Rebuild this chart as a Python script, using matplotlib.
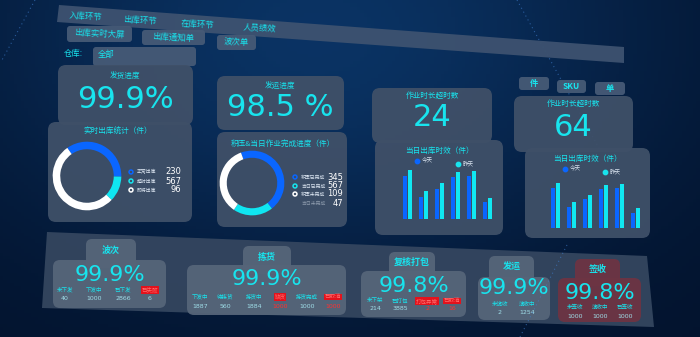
import numpy as np
import matplotlib
matplotlib.use("Agg")
import matplotlib.pyplot as plt
from matplotlib.patches import FancyBboxPatch, Polygon

plt.rcParams['font.family'] = ['Noto Sans CJK SC', 'DejaVu Sans']

W, H = 700, 337

# ---- data ----
top_tabs = ['入库环节', '出库环节', '在库环节', '人员绩效']
sub_tabs = ['出库实时大屏', '出库通知单', '波次单']
unit_buttons = ['件', 'SKU', '单']

kpi_titles = ['发货进度', '发运进度', '作业时长超时数', '作业时长超时数']
kpi_values = ['99.9%', '98.5 %', '24', '64']

donut1_labels = ['正常出库', '超时出库', '即将出库']
donut1_values = [230, 567, 96]
donut1_share = [35, 12, 53]          # arc sizes as drawn
donut2_labels = ['积压已完成', '当日已完成', '积压未完成', '当日未完成']
donut2_values = [345, 567, 109, 47]
donut2_share = [45, 20, 35]

bar_legend = ['今天', '昨天']
bars_a_today = [120, 62, 85, 117, 120, 47]
bars_a_yday = [137, 79, 102, 132, 134, 60]
bars_b_today = [110, 57, 80, 107, 110, 42]
bars_b_yday = [125, 72, 93, 120, 122, 55]

stage_names = ['波次', '拣货', '复核打包', '发运', '签收']
stage_pct = ['99.9%', '99.9%', '99.8%', '99.9%', '99.8%']
stage_labels = [
    ['未下发', '下发中', '已下发', '已失败'],
    ['下发中', '待拣货', '拣货中', '缺货', '拣货完成', '已取消'],
    ['未下架', '已打包', '打包异常', '已取消'],
    ['未揽收', '揽收中'],
    ['未签收', '揽收中', '已签收'],
]
stage_counts = [
    ['40', '1000', '2866', '6'],
    ['1887', '560', '1884', '1000', '1000', '1000'],
    ['214', '3885', '2', '16'],
    ['2', '1254'],
    ['1000', '1000', '1000'],
]
stage_alert = [
    [0, 0, 0, 1],
    [0, 0, 0, 1, 0, 1],
    [0, 0, 1, 1],
    [0, 0],
    [0, 0, 0],
]

CYAN = '#18e4ee'
BLUE = '#0a66ff'
CARD = '#3f5068'
CARD2 = '#566579'


def card(ax, x0, y0, x1, y1, fc=CARD, alpha=0.95, r=6):
    ax.add_patch(FancyBboxPatch((x0, y0), x1 - x0, y1 - y0,
                                boxstyle=f'round,pad=0,rounding_size={r}',
                                fc=fc, ec='none', alpha=alpha, zorder=2))


def px_axes(fig, x0, y0, x1, y1):
    return fig.add_axes([x0 / W, 1 - y1 / H, (x1 - x0) / W, (y1 - y0) / H])


fig = plt.figure(figsize=(7, 3.37), dpi=100)
ax = fig.add_axes([0, 0, 1, 1])
ax.set_xlim(0, W)
ax.set_ylim(H, 0)
ax.axis('off')

# background gradient
yy, xx = np.mgrid[0:1:100j, 0:1:200j]
glow = np.exp(-((xx - 0.45) ** 2 / 0.25 + (yy - 0.1) ** 2 / 0.5))
bg = np.zeros((100, 200, 3))
bg[..., 0] = 0.01 + 0.03 * glow
bg[..., 1] = 0.07 + 0.13 * glow
bg[..., 2] = 0.17 + 0.22 * glow
ax.imshow(bg, extent=[0, W, H, 0], aspect='auto', zorder=0)

# decorative dotted lines
ax.plot([517, 600], [0, 150], ls=(0, (1, 3)), color='#3f7fd0', lw=0.8, alpha=0.6, zorder=1)
ax.plot([567, 520], [245, 337], ls=(0, (1, 3)), color='#3f7fd0', lw=0.8, alpha=0.6, zorder=5)
ax.plot([35, 2], [0, 60], ls=(0, (1, 3)), color='#3f7fd0', lw=0.8, alpha=0.6, zorder=1)

# ---- top navigation band ----
ax.add_patch(Polygon([(59, 5), (624, 47), (624, 63), (57, 22)], closed=True,
                     fc='#3d5270', ec='none', alpha=0.95, zorder=2))
for lab, (x, y) in zip(top_tabs, [(86, 16), (140, 20), (198, 24), (260, 29)]):
    ax.text(x, y, lab, color=CYAN, fontsize=6, ha='center', va='center',
            rotation=-3, zorder=3)
for lab, (x0, y0, x1, y1) in zip(sub_tabs, [(67, 26, 132, 42), (142, 30, 205, 45),
                                             (217, 35, 256, 50)]):
    card(ax, x0, y0, x1, y1, fc='#465a76', r=3)
    ax.text((x0 + x1) / 2, (y0 + y1) / 2, lab, color=CYAN, fontsize=6,
            ha='center', va='center', rotation=-3, zorder=3)
ax.text(73, 53, '仓库:', color=CYAN, fontsize=6, ha='center', va='center', zorder=3)
card(ax, 93, 47, 196, 66, fc='#465a76', r=3)
ax.text(106, 55, '全部', color=CYAN, fontsize=6, ha='center', va='center', zorder=3)

for lab, (x0, y0, x1, y1) in zip(unit_buttons, [(519, 77, 549, 90), (557, 80, 586, 93),
                                                 (595, 82, 625, 95)]):
    card(ax, x0, y0, x1, y1, fc='#465a76', r=3)
    ax.text((x0 + x1) / 2, (y0 + y1) / 2, lab, color=CYAN, fontsize=6,
            ha='center', va='center', fontweight='bold', zorder=3)

# ---- KPI cards ----
kpi_boxes = [(58, 65, 193, 125), (217, 76, 344, 130), (372, 88, 492, 143), (514, 96, 633, 152)]
kpi_title_y = [76, 87, 96, 104]
kpi_value_y = [99, 108, 117, 128]
for i, (x0, y0, x1, y1) in enumerate(kpi_boxes):
    card(ax, x0, y0, x1, y1, r=8)
    cx = (x0 + x1) / 2
    ax.text(cx, kpi_title_y[i], kpi_titles[i], color=CYAN, fontsize=5.5,
            ha='center', va='center', zorder=3)
    ax.text(cx, kpi_value_y[i], kpi_values[i], color=CYAN, fontsize=22,
            ha='center', va='center', family='DejaVu Sans', zorder=3)

# ---- donut cards ----
card(ax, 48, 122, 192, 222, r=8)
ax.text(118, 132, '实时出库统计（件）', color=CYAN, fontsize=5.5, ha='center',
        va='center', zorder=3)
card(ax, 217, 132, 347, 227, r=8)
ax.text(283, 144, '积压&当日作业完成进度（件）', color=CYAN, fontsize=5.5,
        ha='center', va='center', zorder=3)

ring_colors = [BLUE, '#0fe6f2', 'white']
for share, (cx, cy, r), start in [(donut1_share, (87, 176, 35), 125),
                                  (donut2_share, (252, 183, 33), 110)]:
    dax = px_axes(fig, cx - r, cy - r, cx + r, cy + r)
    dax.pie(share, colors=ring_colors, startangle=start, counterclock=False,
            wedgeprops=dict(width=0.22, edgecolor='none'))
    dax.set_xlim(-1.02, 1.02)
    dax.set_ylim(-1.02, 1.02)
    dax.set_aspect('equal')
    dax.axis('off')

dot_cols = [BLUE, CYAN, 'white', None]
for labels, values, x_dot, x_val, ys in [
        (donut1_labels, donut1_values, 131, 181, [172, 181, 190]),
        (donut2_labels, donut2_values, 295, 343, [177, 186, 194, 203])]:
    for k, (lab, val, y) in enumerate(zip(labels, values, ys)):
        if dot_cols[k]:
            ax.scatter([x_dot], [y], s=8, facecolors='none', edgecolors=dot_cols[k],
                       linewidths=1.1, zorder=4)
        ax.text(x_dot + 6, y, lab, color='#d8e2ee' if dot_cols[k] else '#8a98aa',
                fontsize=3.5, ha='left', va='center', zorder=4)
        ax.text(x_val, y, str(val), color='white', fontsize=6, ha='right',
                va='center', family='DejaVu Sans', zorder=4)

# ---- bar cards ----
for (x0, y0, x1, y1), title_y, leg, bax_box, today, yday in [
        ((375, 140, 503, 235), 151, [(417, 161), (458, 164)], (398, 170, 497, 219),
         bars_a_today, bars_a_yday),
        ((525, 148, 650, 238), 159, [(565, 169), (605, 172)], (546, 183, 645, 228),
         bars_b_today, bars_b_yday)]:
    card(ax, x0, y0, x1, y1, r=8)
    ax.text((x0 + x1) / 2, title_y, '当日出库时效（件）', color=CYAN, fontsize=5.5,
            ha='center', va='center', zorder=3)
    for (lx, ly), lab, col in zip(leg, bar_legend, [BLUE, CYAN]):
        ax.scatter([lx], [ly], s=10, color=col, marker='o', zorder=4)
        ax.text(lx + 5, ly, lab, color='#d8e2ee', fontsize=4, ha='left',
                va='center', zorder=4)
    bax = px_axes(fig, *bax_box)
    idx = np.arange(len(today))
    bax.bar(idx - 0.16, today, width=0.26, color=BLUE)
    bax.bar(idx + 0.16, yday, width=0.26, color='#10e8f2')
    bax.set_xlim(-0.6, len(today) - 0.4)
    bax.set_ylim(0, max(yday))
    bax.axis('off')

# ---- bottom stage panel ----
ax.add_patch(Polygon([(47, 232), (647, 256), (654, 327), (42, 308)], closed=True,
                     fc='#34465f', ec='none', alpha=0.95, zorder=2))

stage_tabs = [(86, 239, 136, 262), (243, 246, 291, 268), (389, 252, 435, 273),
              (489, 256, 534, 277), (575, 259, 620, 280)]
stage_cards = [(53, 260, 166, 308), (187, 265, 346, 315), (361, 271, 466, 317),
               (478, 277, 550, 320), (558, 278, 641, 322)]
stage_value_y = [275, 279, 286, 288, 293]
stage_label_y = [290, 297, 301, 304, 307]
stage_count_y = [298, 306, 309, 312, 316]
stage_xs = [[65, 94, 123, 150], [200, 225, 254, 280, 307, 333],
            [375, 400, 427, 452], [500, 527], [575, 600, 625]]

for i in range(len(stage_names)):
    red = stage_names[i] == '签收'
    fc = '#6d3443' if red else CARD2
    tx0, ty0, tx1, ty1 = stage_tabs[i]
    card(ax, tx0, ty0, tx1, ty1 + 6, fc=fc, r=6)
    ax.text((tx0 + tx1) / 2, (ty0 + ty1) / 2, stage_names[i], color=CYAN,
            fontsize=6.5, fontweight='bold', ha='center', va='center', zorder=4)
    x0, y0, x1, y1 = stage_cards[i]
    card(ax, x0, y0, x1, y1, fc=fc, r=7)
    ax.text((x0 + x1) / 2, stage_value_y[i], stage_pct[i], color=CYAN, fontsize=16,
            ha='center', va='center', family='DejaVu Sans', zorder=4)
    for lab, cnt, alert, x in zip(stage_labels[i], stage_counts[i], stage_alert[i],
                                  stage_xs[i]):
        if alert:
            ax.text(x, stage_label_y[i], lab, color='#ff6a6a', fontsize=4,
                    ha='center', va='center', zorder=4,
                    bbox=dict(boxstyle='square,pad=0.15', fc='#e3121c', ec='none'))
        else:
            ax.text(x, stage_label_y[i], lab, color=CYAN, fontsize=4,
                    ha='center', va='center', zorder=4)
        ax.text(x, stage_count_y[i], cnt, color='#ff3030' if alert and i > 0 else '#9fdde8',
                fontsize=4.5, ha='center', va='center', family='DejaVu Sans', zorder=4)

fig.savefig('out.png', dpi=100)
